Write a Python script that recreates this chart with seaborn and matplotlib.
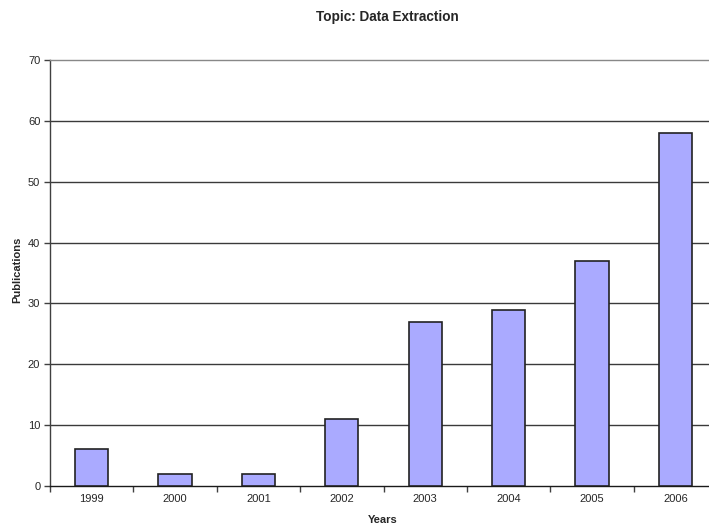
import matplotlib
matplotlib.use("Agg")
import matplotlib.pyplot as plt
import seaborn as sns
import pandas as pd
import numpy as np

years = ["1999", "2000", "2001", "2002", "2003", "2004", "2005", "2006"]
publications = [6, 2, 2, 11, 27, 29, 37, 58]
y_ticks = [0, 10, 20, 30, 40, 50, 60, 70]

sns.set_style("white")
plt.rcParams["font.family"] = ["Liberation Sans", "DejaVu Sans"]

df = pd.DataFrame({"Years": years, "Publications": publications})

fig = plt.figure(figsize=(7.09, 5.31), dpi=100)
ax = fig.add_axes([50 / 709, 45 / 531, 667 / 709, 426 / 531])

sns.barplot(data=df, x="Years", y="Publications", ax=ax, color="#AAAAFF",
            edgecolor="#222222", linewidth=1.2, width=0.4, saturation=1, zorder=3)

ax.set_xlim(-0.5, len(years) - 0.5)
ax.set_ylim(0, 70)
ax.set_yticks(y_ticks)
ax.set_yticklabels([str(t) for t in y_ticks], fontsize=8)
ax.set_xticks(range(len(years)))
ax.set_xticklabels(years, fontsize=8)
ax.set_xticks(np.arange(-0.5, len(years), 1.0), minor=True)
ax.tick_params(axis="x", which="major", bottom=True, length=0, pad=6)
ax.tick_params(axis="x", which="minor", bottom=True, length=4, width=1,
               color="#404040", direction="out")
ax.tick_params(axis="y", length=4, width=1, color="#404040", direction="out",
               pad=3, left=True)

for t in y_ticks[1:-1]:
    ax.axhline(t, color="#3a3a3a", linewidth=1, zorder=1)

ax.spines["right"].set_visible(False)
ax.spines["top"].set_color("#888888")
ax.spines["top"].set_linestyle((0, (1, 1)))
ax.spines["top"].set_linewidth(1)
ax.spines["left"].set_color("#404040")
ax.spines["bottom"].set_color("#1a1a1a")
ax.spines["left"].set_linewidth(1)
ax.spines["bottom"].set_linewidth(1)

ax.set_xlabel("")
ax.set_ylabel("")
fig.text(17 / 709, 1 - 270 / 531, "Publications", rotation=90, ha="center", va="center",
         fontsize=8, fontweight="bold")
fig.text(383 / 709, 1 - 520 / 531, "Years", ha="center", va="center",
         fontsize=8, fontweight="bold")
fig.text(387 / 709, 1 - 17 / 531, "Topic: Data Extraction", ha="center", va="center",
         fontsize=9.8, fontweight="bold")

fig.savefig("out.png", dpi=100)
